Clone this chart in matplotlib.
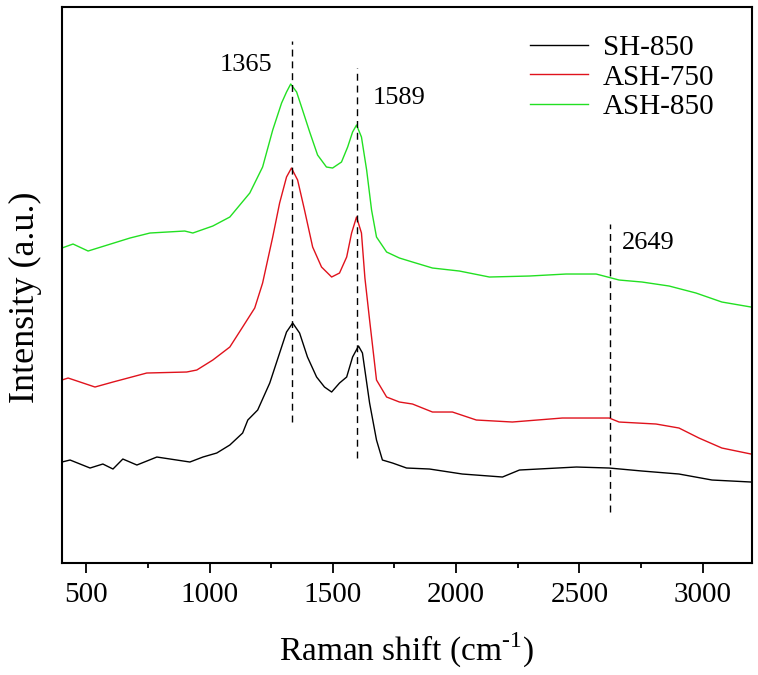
import matplotlib
matplotlib.use("Agg")
import matplotlib.pyplot as plt
from matplotlib.ticker import MultipleLocator

plt.rcParams["font.family"] = ["Liberation Serif", "DejaVu Serif"]
plt.rcParams["mathtext.fontset"] = "custom"
plt.rcParams["mathtext.rm"] = "Liberation Serif"

# ── spectra (Raman shift cm-1, offset intensity a.u.) ──
sh850_x = [401, 434, 515, 567, 608, 648, 705, 786, 920, 973, 1029, 1082, 1134,
           1155, 1195, 1244, 1284, 1312, 1337, 1365, 1397, 1434, 1466, 1495,
           1527, 1556, 1580, 1604, 1620, 1649, 1677, 1701, 1742, 1799, 1892,
           2025, 2188, 2257, 2488, 2621, 2754, 2904, 3038, 3196]
sh850_y = [101, 103, 95, 99, 94, 104, 98, 106, 101, 106, 110, 118, 130,
           143, 153, 180, 210, 231, 240, 230, 206, 186, 176, 171,
           180, 186, 206, 217, 210, 160, 123, 103, 100, 95, 94,
           89, 86, 93, 96, 95, 92, 89, 83, 81]

ash750_x = [401, 426, 535, 608, 745, 907, 948, 1013, 1082, 1134, 1183, 1215,
            1256, 1284, 1312, 1332, 1357, 1385, 1418, 1454, 1495, 1527, 1556,
            1576, 1596, 1616, 1630, 1649, 1677, 1718, 1770, 1823, 1904, 1985,
            2082, 2228, 2431, 2621, 2661, 2811, 2904, 2985, 3078, 3196]
ash750_y = [183, 185, 176, 181, 190, 191, 193, 203, 216, 236, 255, 280,
            326, 360, 386, 395, 383, 353, 316, 296, 286, 290, 306,
            330, 346, 330, 285, 243, 183, 166, 161, 159, 151, 151,
            143, 141, 145, 145, 141, 139, 135, 125, 115, 109]

ash850_x = [401, 446, 507, 677, 758, 899, 932, 1013, 1082, 1163, 1215, 1256,
            1292, 1312, 1329, 1353, 1377, 1406, 1438, 1474, 1499, 1535, 1560,
            1580, 1596, 1616, 1637, 1657, 1677, 1718, 1770, 1823, 1904, 2013,
            2135, 2297, 2446, 2568, 2661, 2754, 2864, 2973, 3078, 3196]
ash850_y = [315, 319, 312, 325, 330, 332, 330, 337, 346, 370, 396, 433,
            460, 471, 479, 471, 453, 431, 408, 396, 395, 401, 416,
            431, 438, 426, 393, 353, 326, 311, 305, 301, 295, 292,
            286, 287, 289, 289, 283, 281, 277, 270, 261, 256]

# (label, x position of dashed marker, marker y-span)
peak_labels = ["1365", "1589", "2649"]
peak_pos = [1334, 1597, 2624]
peak_span = [(141, 522), (105, 495), (51, 339)]

fig = plt.figure(figsize=(7.58, 6.75), dpi=100)
ax = fig.add_axes([0.0814, 0.1659, 0.9106, 0.8237])

ax.plot(sh850_x, sh850_y, color="black", lw=1.0, label="SH-850")
ax.plot(ash750_x, ash750_y, color="#e0121c", lw=1.0, label="ASH-750")
ax.plot(ash850_x, ash850_y, color="#22e022", lw=1.0, label="ASH-850")

for pos, (lo, hi) in zip(peak_pos, peak_span):
    ax.plot([pos, pos], [lo, hi], color="black", lw=1.0, linestyle=(0, (5, 3.5)))

ax.text(1256, 498, peak_labels[0], fontsize=19, ha="right", va="center")
ax.text(1660, 465, peak_labels[1], fontsize=19, ha="left", va="center")
ax.text(2673, 320, peak_labels[2], fontsize=19, ha="left", va="center")

ax.set_xlim(400, 3200)
ax.set_ylim(0, 556)
ax.xaxis.set_major_locator(MultipleLocator(500))
ax.xaxis.set_minor_locator(MultipleLocator(250))
ax.tick_params(axis="x", which="major", direction="out", length=7, width=1.3,
               labelsize=21, pad=7)
ax.tick_params(axis="x", which="minor", direction="out", length=3.5, width=1.3)
ax.set_yticks([])
for sp in ax.spines.values():
    sp.set_linewidth(1.5)

ax.set_xlabel(r"Raman shift (cm$^{\text{-1}}$)", fontsize=24, labelpad=16)
ax.set_ylabel("Intensity (a.u.)", fontsize=26)
ax.yaxis.set_label_coords(-0.029, 0.478)

ax.legend(loc="upper left", bbox_to_anchor=(0.678, 0.950), frameon=False,
          fontsize=21, handlelength=2.0, handletextpad=0.5, labelspacing=0.1,
          borderpad=0, borderaxespad=0)

fig.savefig("out.png", dpi=100)
